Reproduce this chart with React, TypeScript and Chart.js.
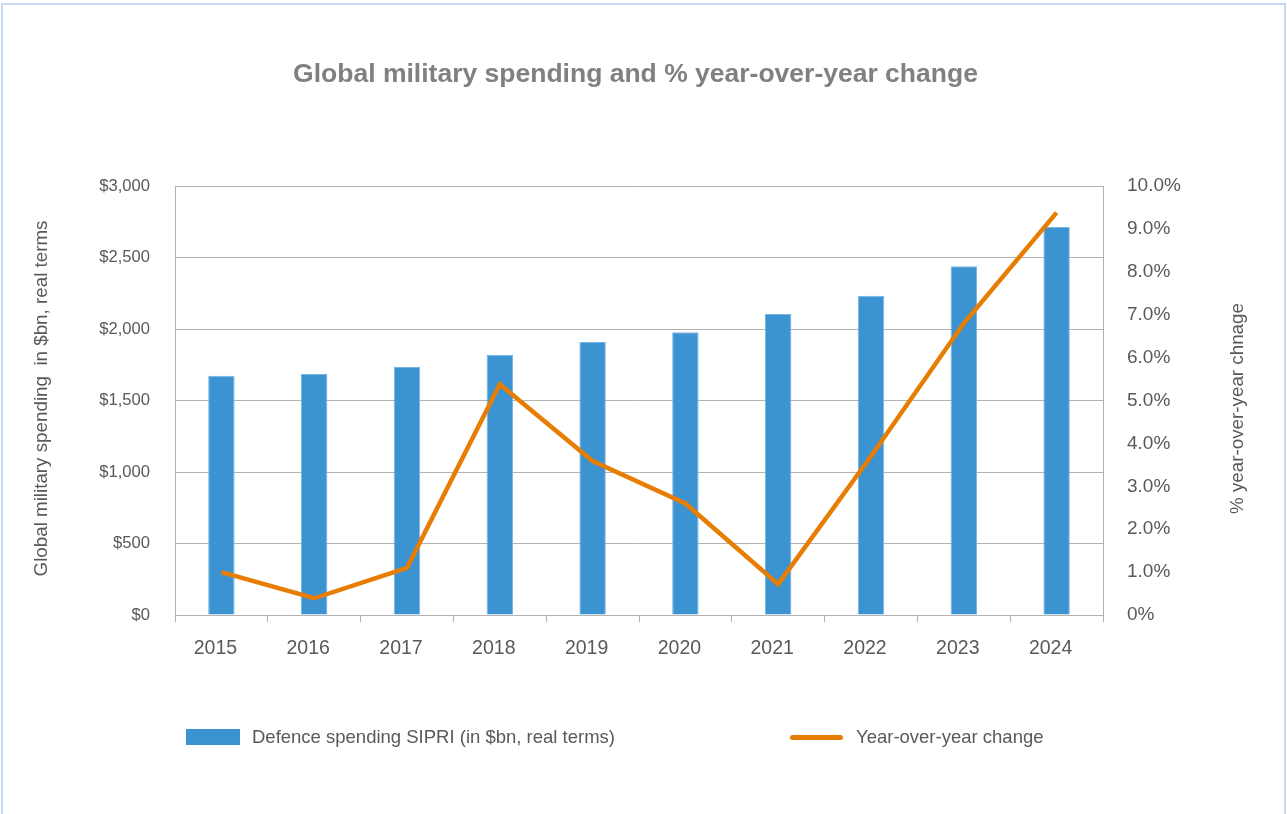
import React, { useEffect, useRef } from "react";
import { Chart, registerables } from "chart.js";

Chart.register(...registerables);

const years = ["2015", "2016", "2017", "2018", "2019", "2020", "2021", "2022", "2023", "2024"];
const spending = [1673, 1685, 1734, 1820, 1909, 1977, 2105, 2233, 2438, 2713];
const yoyChange = [1.0, 0.39, 1.1, 5.38, 3.59, 2.6, 0.72, 3.7, 6.8, 9.38];

const titleText = "Global military spending and % year-over-year change";
const leftAxisTitle = "Global military spending  in $bn, real terms";
const rightAxisTitle = "% year-over-year chnage";
const barLabel = "Defence spending SIPRI (in $bn, real terms)";
const lineLabel = "Year-over-year change";

const FONT = "'Liberation Sans', Arial, Helvetica, sans-serif";
const BAR_COLOR = "#3b93d1";
const LINE_COLOR = "#e87d04";
const GRID = "#b3b3b3";
const TEXT = "#595959";

const axisTitlesPlugin = {
  id: "axisTitles",
  afterDraw(chart: any) {
    const ctx = chart.ctx;
    const ca = chart.chartArea;
    ctx.save();
    ctx.fillStyle = TEXT;
    ctx.font = `18.8px ${FONT}`;
    ctx.textAlign = "center";
    ctx.textBaseline = "middle";
    ctx.save();
    ctx.translate(42, (ca.top + ca.bottom) / 2 - 2);
    ctx.rotate(-Math.PI / 2);
    ctx.fillText(leftAxisTitle, 0, 0);
    ctx.restore();
    ctx.save();
    ctx.translate(1238, (ca.top + ca.bottom) / 2 + 8);
    ctx.rotate(-Math.PI / 2);
    ctx.fillText(rightAxisTitle, 0, 0);
    ctx.restore();
    ctx.restore();
  },
};

export default function App() {
  const ref = useRef<HTMLCanvasElement | null>(null);

  useEffect(() => {
    if (!ref.current) return;
    Chart.defaults.font.family = FONT;
    const chart = new Chart(ref.current, {
      type: "bar",
      data: {
        labels: years,
        datasets: [
          {
            type: "line",
            label: lineLabel,
            data: yoyChange,
            yAxisID: "y1",
            borderColor: LINE_COLOR,
            backgroundColor: LINE_COLOR,
            borderWidth: 4.5,
            pointRadius: 0,
            tension: 0,
            order: 0,
          },
          {
            type: "bar",
            label: barLabel,
            data: spending,
            yAxisID: "y",
            backgroundColor: BAR_COLOR,
            borderColor: "#79b5e2",
            borderWidth: 1,
            borderSkipped: "bottom",
            barPercentage: 0.285,
            categoryPercentage: 1,
            order: 1,
          },
        ] as any,
      },
      options: {
        responsive: false,
        animation: false,
        layout: { padding: { top: 0, left: 0, right: 16, bottom: 139 } },
        plugins: {
          legend: { display: false },
          tooltip: { enabled: false },
          title: {
            display: true,
            text: titleText,
            color: "#808080",
            font: { size: 26.5, weight: "bold", family: FONT },
            padding: { top: 58.5, bottom: 95.7 },
          },
        },
        scales: {
          x: {
            offset: true,
            grid: {
              offset: true,
              drawOnChartArea: false,
              drawTicks: true,
              tickLength: 7,
              color: GRID,
            },
            border: { display: true, color: GRID },
            ticks: { color: TEXT, font: { size: 19.5 }, padding: 15, maxRotation: 0, labelOffset: -6 },
            afterFit(scale: any) {
              scale.height = 60;
            },
          },
          y: {
            position: "left",
            min: 0,
            max: 3000,
            ticks: {
              stepSize: 500,
              color: TEXT,
              font: { size: 16.6 },
              padding: 25,
              callback: (v: any) => "$" + Number(v).toLocaleString("en-US"),
            },
            grid: { color: GRID, drawTicks: false },
            border: { display: true, color: GRID },
            afterFit(scale: any) {
              scale.width = 175;
            },
          },
          y1: {
            position: "right",
            min: 0,
            max: 10,
            ticks: {
              stepSize: 1,
              color: TEXT,
              font: { size: 19 },
              padding: 24,
              callback: (v: any) => (Number(v) === 0 ? "0%" : Number(v).toFixed(1) + "%"),
            },
            grid: { drawOnChartArea: false, drawTicks: false, color: GRID },
            border: { display: true, color: GRID },
            afterFit(scale: any) {
              scale.width = 168;
            },
          },
        },
      },
      plugins: [axisTitlesPlugin],
    });
    return () => chart.destroy();
  }, []);

  return (
    <div style={{ position: "absolute", left: 0, top: 0, width: 1287, height: 814, background: "#fff", overflow: "hidden", fontFamily: FONT }}>
      <canvas ref={ref} width={1287} height={814} style={{ position: "absolute", left: 0, top: 0 }} />
      <div
        style={{
          position: "absolute",
          left: 1,
          top: 3,
          width: 1285,
          height: 830,
          border: "2px solid #c5d8f0",
          boxSizing: "border-box",
          pointerEvents: "none",
        }}
      />
      <div style={{ position: "absolute", left: 186, top: 729, width: 54, height: 16, background: BAR_COLOR }} />
      <div style={{ position: "absolute", left: 252, top: 725, fontSize: 18.5, lineHeight: "24px", color: TEXT, whiteSpace: "nowrap" }}>
        {barLabel}
      </div>
      <div style={{ position: "absolute", left: 790, top: 735, width: 53, height: 5, borderRadius: 3, background: LINE_COLOR }} />
      <div style={{ position: "absolute", left: 856, top: 725, fontSize: 18.5, lineHeight: "24px", color: TEXT, whiteSpace: "nowrap" }}>
        {lineLabel}
      </div>
    </div>
  );
}
